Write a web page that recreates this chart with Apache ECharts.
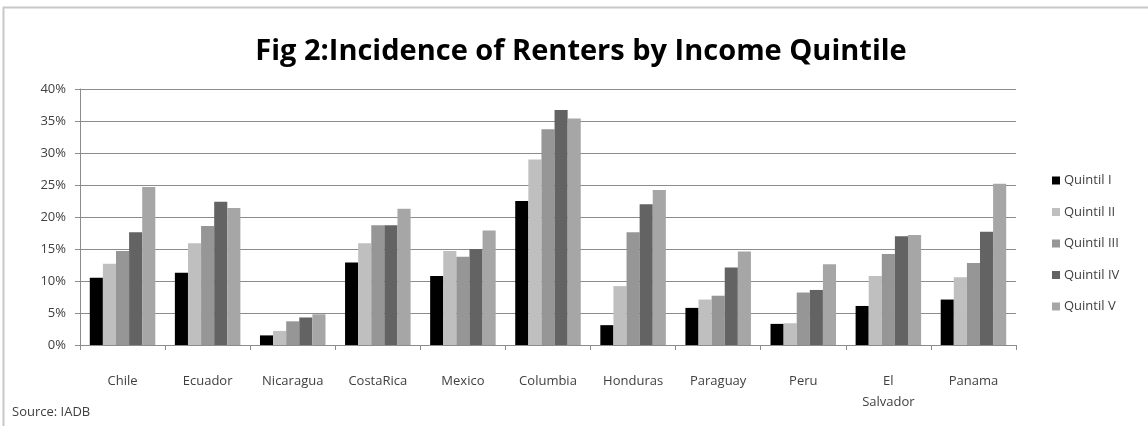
<!DOCTYPE html>
<html>
<head>
<meta charset="utf-8">
<script src="https://cdn.jsdelivr.net/npm/echarts@6/dist/echarts.min.js"></script>
<style>
  html, body { margin: 0; padding: 0; background: #ffffff; }
  #chart { width: 1148px; height: 426px; }
</style>
</head>
<body>
<div id="chart"></div>
<script>
const categories = ['Chile', 'Ecuador', 'Nicaragua', 'CostaRica', 'Mexico', 'Columbia', 'Honduras', 'Paraguay', 'Peru', 'El Salvador', 'Panama'];
const seriesNames = ['Quintil I', 'Quintil II', 'Quintil III', 'Quintil IV', 'Quintil V'];
const quintil1 = [10.5, 11.3, 1.5, 12.9, 10.8, 22.5, 3.1, 5.8, 3.3, 6.1, 7.1];
const quintil2 = [12.7, 15.9, 2.2, 15.9, 14.7, 29.0, 9.2, 7.1, 3.4, 10.8, 10.6];
const quintil3 = [14.7, 18.6, 3.7, 18.7, 13.8, 33.7, 17.6, 7.7, 8.2, 14.2, 12.8];
const quintil4 = [17.6, 22.4, 4.3, 18.7, 15.0, 36.7, 22.0, 12.1, 8.6, 17.0, 17.7];
const quintil5 = [24.7, 21.4, 4.8, 21.3, 17.9, 35.4, 24.2, 14.6, 12.6, 17.2, 25.2];
const yTicks = [0, 5, 10, 15, 20, 25, 30, 35, 40];
const colors = ['#000000', '#bfbfbf', '#969696', '#636363', '#a6a6a6'];

const allData = [quintil1, quintil2, quintil3, quintil4, quintil5];
const chart = echarts.init(document.getElementById('chart'), null, { renderer: 'canvas' });
const option = {
  animation: false,
  color: colors,
  title: {
    text: 'Fig 2:Incidence of Renters by Income Quintile',
    left: 576,
    textAlign: 'center',
    top: 32,
    textStyle: { fontFamily: 'Open Sans', fontWeight: 'bold', fontSize: 29, color: '#000000' }
  },
  graphic: [
    { type: 'rect', shape: { x: 3.5, y: 7.5, width: 1160, height: 430 }, style: { fill: 'none', stroke: '#c8c8c8', lineWidth: 2 }, silent: true },
    { type: 'text', left: 12, top: 406, style: { text: 'Source: IADB', font: '13px "Open Sans"', fill: '#404040' } }
  ],
  legend: {
    orient: 'vertical',
    left: 1047,
    top: 169,
    itemWidth: 8,
    itemHeight: 8,
    itemGap: 18.5,
    icon: 'rect',
    textStyle: { fontFamily: 'Open Sans', fontSize: 13, color: '#404040', padding: [0, 0, 0, -1] },
    data: seriesNames
  },
  grid: { left: 80, right: 132, top: 89, bottom: 81, containLabel: false },
  xAxis: {
    type: 'category',
    data: categories,
    axisLine: { lineStyle: { color: '#8c8c8c', width: 1 } },
    axisTick: { show: true, length: 5, lineStyle: { color: '#8c8c8c' } },
    axisLabel: {
      margin: 26,
      fontFamily: 'Open Sans',
      fontSize: 13,
      color: '#404040',
      lineHeight: 21,
      formatter: v => v.indexOf(' ') > 0 && v.length > 10 ? v.replace(' ', '\n') : v
    }
  },
  yAxis: {
    type: 'value',
    min: 0,
    max: 40,
    interval: 5,
    axisLine: { show: true, lineStyle: { color: '#8c8c8c', width: 1 } },
    axisTick: { show: true, length: 5, lineStyle: { color: '#8c8c8c' } },
    splitLine: { lineStyle: { color: '#8c8c8c', width: 1 } },
    axisLabel: {
      margin: 14,
      fontFamily: 'Open Sans',
      fontSize: 13,
      color: '#404040',
      formatter: v => (yTicks.indexOf(v) >= 0 ? v + '%' : '')
    }
  },
  series: seriesNames.map((name, i) => ({
    name: name,
    type: 'bar',
    data: allData[i],
    barGap: '0%',
    barCategoryGap: '23%',
    itemStyle: { color: colors[i] }
  }))
};
chart.setOption(option);
</script>
</body>
</html>
